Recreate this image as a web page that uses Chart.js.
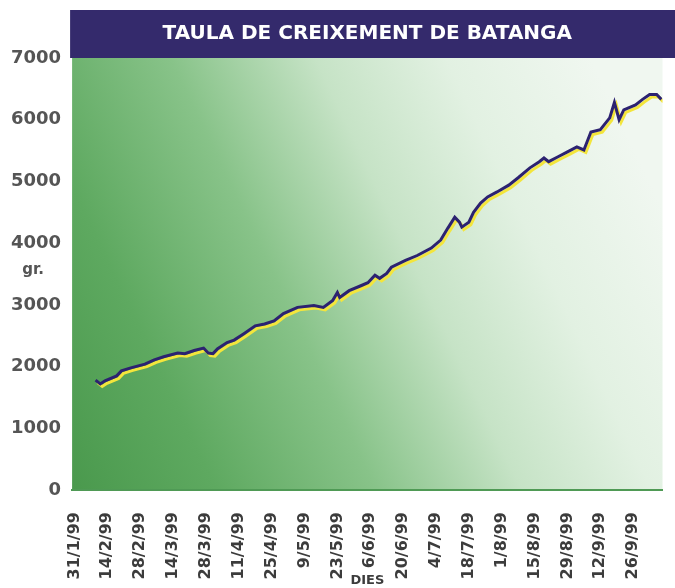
<!DOCTYPE html>
<html>
<head>
<meta charset="utf-8">
<title>Taula de creixement de Batanga</title>
<script src="https://cdn.jsdelivr.net/npm/chart.js@4"></script>
<style>
  body { margin: 0; background: #fff; }
  #chart { display: block; }
</style>
</head>
<body>
<canvas id="chart" width="675" height="588"></canvas>
<script>
// Days counted from 31/1/99, weight in grams
const days = [9, 11, 13, 18, 20, 24, 30, 34, 38, 44,
    47, 51, 55, 57, 59, 61, 65, 68, 72, 77,
    81, 85, 89, 95, 102, 106, 110, 112, 113, 117,
    122, 125, 128, 130, 133, 135, 141, 146, 152, 156,
    159, 162, 164, 165, 168, 170, 173, 176, 180, 185,
    189, 194, 198, 200, 202, 206, 210, 214, 217, 220,
    224, 228, 230, 232, 234, 239, 242, 245, 248, 250];
const grams = [1780, 1720, 1770, 1850, 1930, 1980, 2040, 2110, 2160, 2220,
    2210, 2260, 2300, 2220, 2210, 2290, 2390, 2430, 2530, 2660,
    2690, 2740, 2860, 2960, 2990, 2960, 3070, 3200, 3120, 3230,
    3310, 3360, 3480, 3430, 3510, 3610, 3720, 3800, 3920, 4050,
    4240, 4420, 4340, 4260, 4340, 4500, 4650, 4750, 4830, 4940,
    5060, 5220, 5320, 5380, 5320, 5400, 5480, 5560, 5510, 5800,
    5840, 6030, 6280, 6000, 6160, 6240, 6330, 6410, 6410, 6330];

// Tick positions (days) and their labels
const tickDays = [0, 14, 28, 42, 56, 70, 84, 98, 112, 126, 140, 154, 168, 182, 196, 210, 224, 238];
const tickLabels = ['31/1/99', '14/2/99', '28/2/99', '14/3/99', '28/3/99', '11/4/99', '25/4/99', '9/5/99',
    '23/5/99', '6/6/99', '20/6/99', '4/7/99', '18/7/99', '1/8/99', '15/8/99', '29/8/99', '12/9/99', '26/9/99'];

const FONT = '"DejaVu Sans", sans-serif';

// Green plot background and the dark title bar
const backdrop = {
    id: 'backdrop',
    beforeDraw(chart) {
        const ctx = chart.ctx;
        const a = chart.chartArea;
        const t = chart.titleBlock;

        ctx.save();
        ctx.fillStyle = '#342a6c';
        ctx.fillRect(a.left - 2, t.top, chart.width - a.left + 2, t.height);

        const g = ctx.createLinearGradient(a.left, a.bottom, a.right, a.top + 150);
        g.addColorStop(0, '#4a994d');
        g.addColorStop(0.2, '#5ea960');
        g.addColorStop(0.42, '#88c389');
        g.addColorStop(0.62, '#c6e3c6');
        g.addColorStop(0.8, '#e2f1e2');
        g.addColorStop(1, '#f0f7f0');
        ctx.fillStyle = g;
        ctx.fillRect(a.left, a.top, a.right - a.left, a.bottom - a.top);
        ctx.restore();
    },
    afterDraw(chart) {
        // unit label beside the y axis (not rotated)
        const ctx = chart.ctx;
        const y = chart.scales.y;
        ctx.save();
        ctx.font = 'bold 15px ' + FONT;
        ctx.fillStyle = '#555';
        ctx.textAlign = 'center';
        ctx.textBaseline = 'middle';
        ctx.fillText('gr.', 33, y.getPixelForValue(3560));
        ctx.restore();
    }
};

// Yellow offset shadow under the line
const lineShadow = {
    id: 'lineShadow',
    beforeDatasetDraw(chart) {
        const ctx = chart.ctx;
        ctx.save();
        ctx.shadowColor = '#f3e53c';
        ctx.shadowOffsetX = 2;
        ctx.shadowOffsetY = 2.5;
        ctx.shadowBlur = 0;
    },
    afterDatasetDraw(chart) {
        chart.ctx.restore();
    }
};

new Chart(document.getElementById('chart'), {
    type: 'line',
    data: {
        datasets: [{
            label: 'Batanga',
            data: days.map((d, i) => ({ x: d, y: grams[i] })),
            borderColor: '#2c2270',
            borderWidth: 3,
            pointRadius: 0,
            tension: 0,
            fill: false
        }]
    },
    options: {
        responsive: false,
        animation: false,
        layout: { padding: { top: 10, right: 0, left: 0, bottom: 0 } },
        plugins: {
            legend: { display: false },
            tooltip: { enabled: false },
            title: {
                display: true,
                text: 'TAULA DE CREIXEMENT DE BATANGA',
                color: '#ffffff',
                fullSize: false,
                font: { family: FONT, size: 20, weight: 'bold', lineHeight: 1.2 },
                padding: { top: 12, bottom: 12 }
            }
        },
        scales: {
            x: {
                type: 'linear',
                min: -1,
                max: 250.5,
                afterBuildTicks(scale) {
                    scale.ticks = tickDays.map(v => ({ value: v }));
                },
                grid: { display: false, drawTicks: false },
                border: { display: true, color: '#4f9a55', width: 2 },
                ticks: {
                    autoSkip: false,
                    minRotation: 90,
                    maxRotation: 90,
                    padding: 22,
                    color: '#3c3c3c',
                    font: { family: FONT, size: 16, weight: 'bold' },
                    callback: (value, index) => tickLabels[index]
                },
                title: {
                    display: true,
                    text: 'DIES',
                    color: '#3c3c3c',
                    font: { family: FONT, size: 13, weight: 'bold' },
                    padding: { top: -29, bottom: 0 }
                }
            },
            y: {
                min: 0,
                max: 7000,
                grid: { display: false, drawTicks: false },
                border: { display: false },
                ticks: {
                    stepSize: 1000,
                    padding: 11,
                    color: '#555',
                    font: { family: FONT, size: 18, weight: 'bold' },
                    callback: value => String(value)
                }
            }
        }
    },
    plugins: [backdrop, lineShadow]
});
</script>
</body>
</html>
